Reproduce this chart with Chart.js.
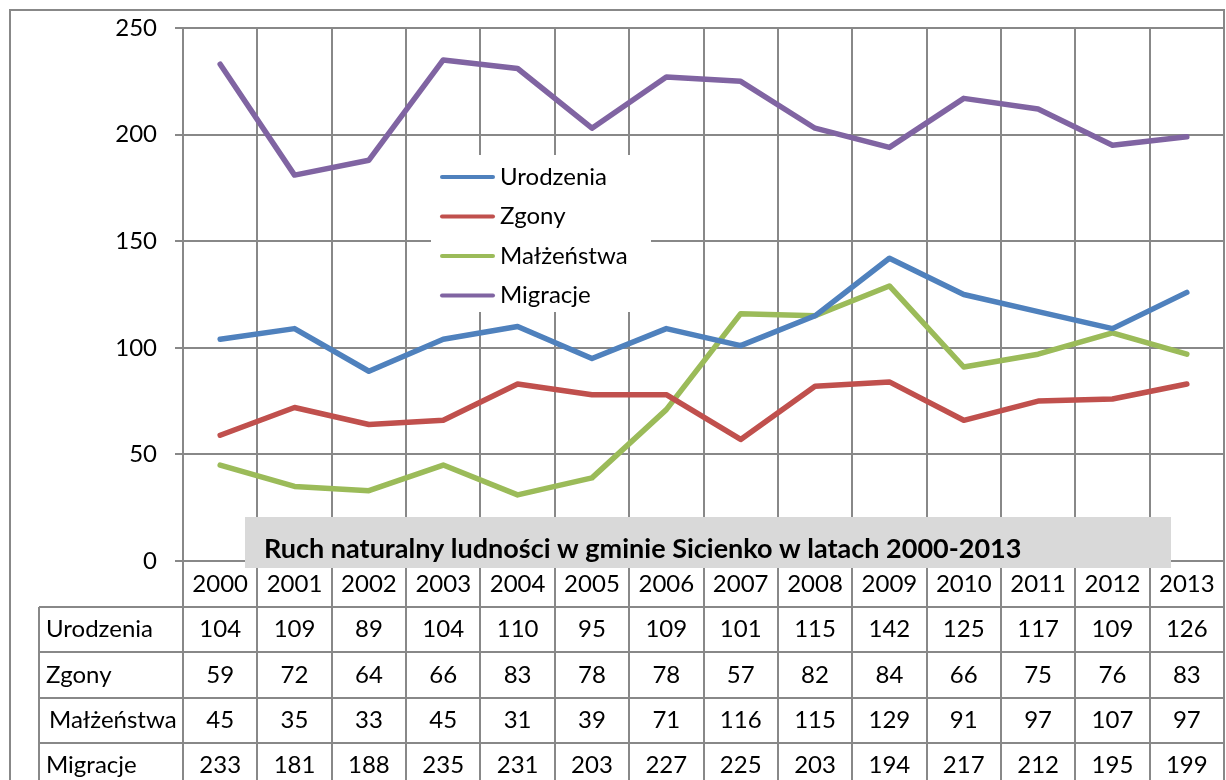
<!DOCTYPE html>
<html>
<head>
<meta charset="utf-8">
<script src="https://cdn.jsdelivr.net/npm/chart.js@4/dist/chart.umd.min.js"></script>
<style>
  html, body { margin: 0; padding: 0; background: #fff; }
  #wrap { width: 1226px; height: 780px; position: relative; }
</style>
</head>
<body>
<div id="wrap"><canvas id="myChart"></canvas></div>
<script>
// dane z tabeli
const years = ["2000", "2001", "2002", "2003", "2004", "2005", "2006", "2007", "2008", "2009", "2010", "2011", "2012", "2013"];
const urodzenia = [104, 109, 89, 104, 110, 95, 109, 101, 115, 142, 125, 117, 109, 126];
const zgony = [59, 72, 64, 66, 83, 78, 78, 57, 82, 84, 66, 75, 76, 83];
const malzenstwa = [45, 35, 33, 45, 31, 39, 71, 116, 115, 129, 91, 97, 107, 97];
const migracje = [233, 181, 188, 235, 231, 203, 227, 225, 203, 194, 217, 212, 195, 199];
const seriesNames = ["Urodzenia", "Zgony", "Małżeństwa", "Migracje"];
const chartTitle = "Ruch naturalny ludności w gminie Sicienko w latach 2000-2013";

const FONT = "Lato";
const FSIZE = 24;
const GRID = "#888888";

// ramka wykresu
const frame = {
  id: "frame",
  beforeDraw(chart) {
    const c = chart.ctx;
    c.save();
    c.strokeStyle = GRID;
    c.lineWidth = 2;
    c.strokeRect(10, 10, 1214, 800);
    c.restore();
  },
};

// tabela danych pod osią X + tytuł + legenda
const extras = {
  id: "extras",
  afterDraw(chart) {
    const c = chart.ctx;
    const xs = chart.scales.x;
    const area = chart.chartArea;
    const n = years.length;
    const colW = (area.right - area.left) / n;
    const tableLeft = 39;
    const rowTop = 607;
    const rowH = 45.3;
    const rows = [urodzenia, zgony, malzenstwa, migracje];

    c.save();
    c.strokeStyle = GRID;
    c.lineWidth = 2;
    // pionowe linie
    for (let i = 0; i <= n; i++) {
      const bx = Math.round(area.left + i * colW);
      c.beginPath();
      c.moveTo(bx, area.bottom);
      c.lineTo(bx, 780);
      c.stroke();
    }
    c.beginPath();
    c.moveTo(tableLeft, rowTop);
    c.lineTo(tableLeft, 780);
    c.stroke();
    // poziome linie
    for (let r = 0; r <= rows.length; r++) {
      const y = Math.round(rowTop + r * rowH);
      c.beginPath();
      c.moveTo(tableLeft, y);
      c.lineTo(area.right, y);
      c.stroke();
    }
    // wartości
    c.fillStyle = "#000";
    c.font = FSIZE + "px " + FONT;
    c.textBaseline = "middle";
    rows.forEach((vals, r) => {
      const cy = rowTop + r * rowH + rowH / 2;
      c.textAlign = "left";
      c.fillText(seriesNames[r], r === 2 ? 49 : 46, cy);
      c.textAlign = "center";
      vals.forEach((v, i) => {
        c.fillText(String(v), xs.getPixelForValue(i), cy);
      });
    });

    // tytuł w szarym polu
    c.fillStyle = "#d9d9d9";
    c.fillRect(245, 517, 926, 51);
    c.fillStyle = "#000";
    c.font = "bold 27px " + FONT;
    c.textAlign = "left";
    c.fillText(chartTitle, 264, 549);

    // legenda
    c.fillStyle = "#fff";
    c.fillRect(431, 155, 220, 157);
    c.font = FSIZE + "px " + FONT;
    chart.data.datasets.forEach((ds, i) => {
      const y = 177 + i * 39.5;
      c.strokeStyle = ds.borderColor;
      c.lineWidth = 4;
      c.lineCap = "round";
      c.beginPath();
      c.moveTo(442, y);
      c.lineTo(493, y);
      c.stroke();
      c.fillStyle = "#000";
      c.fillText(ds.label, 500, y);
    });
    c.restore();
  },
};

const ctx = document.getElementById("myChart").getContext("2d");
const myChart = new Chart(ctx, {
  type: "line",
  data: {
    labels: years,
    datasets: [
      { label: seriesNames[0], data: urodzenia, borderColor: "#4f81bd" },
      { label: seriesNames[1], data: zgony, borderColor: "#c0504d" },
      { label: seriesNames[2], data: malzenstwa, borderColor: "#9bbb59" },
      { label: seriesNames[3], data: migracje, borderColor: "#8064a2" },
    ],
  },
  options: {
    responsive: true,
    maintainAspectRatio: false,
    animation: false,
    layout: { padding: { top: 28, right: 2, left: 0, bottom: 0 } },
    elements: {
      line: { borderWidth: 5.5, tension: 0, borderCapStyle: "round", borderJoinStyle: "round" },
      point: { radius: 0, hoverRadius: 0 },
    },
    scales: {
      x: {
        type: "category",
        offset: true,
        afterFit: (s) => { s.height = 219; },
        grid: { offset: true, color: GRID, lineWidth: 2, drawTicks: false },
        border: { color: GRID, width: 2 },
        ticks: { color: "#000", font: { family: FONT, size: FSIZE }, padding: 9, maxRotation: 0 },
      },
      y: {
        min: 0,
        max: 250,
        afterFit: (s) => { s.width = 183; },
        grid: { color: GRID, lineWidth: 2, tickLength: 8 },
        border: { color: GRID, width: 2 },
        ticks: { stepSize: 50, color: "#000", font: { family: FONT, size: FSIZE, lineHeight: 0.8 }, padding: 18 },
      },
    },
    plugins: {
      legend: { display: false },
      title: { display: false },
      tooltip: { enabled: false },
    },
  },
  plugins: [frame, extras],
});
</script>
</body>
</html>
